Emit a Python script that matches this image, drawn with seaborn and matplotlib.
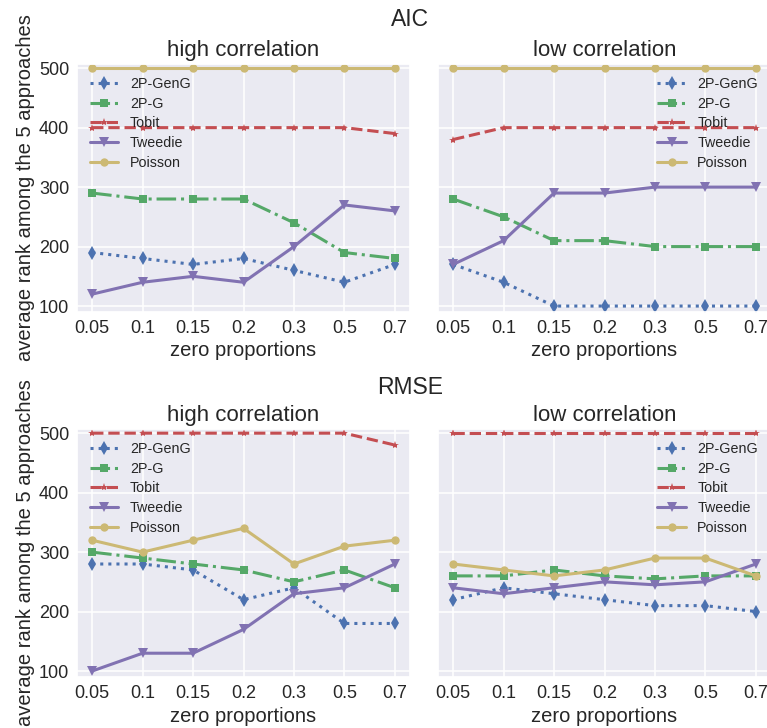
import matplotlib
matplotlib.use("Agg")
import matplotlib.pyplot as plt
import seaborn as sns
import pandas as pd

# ---------------- data ----------------
zero_props = ["0.05", "0.1", "0.15", "0.2", "0.3", "0.5", "0.7"]
methods = ["2P-GenG", "2P-G", "Tobit", "Tweedie", "Poisson"]

aic_high_genG = [190, 180, 170, 180, 160, 140, 170]
aic_high_2pg = [290, 280, 280, 280, 240, 190, 180]
aic_high_tobit = [400, 400, 400, 400, 400, 400, 390]
aic_high_tweedie = [120, 140, 150, 140, 200, 270, 260]
aic_high_poisson = [500, 500, 500, 500, 500, 500, 500]

aic_low_genG = [170, 140, 100, 100, 100, 100, 100]
aic_low_2pg = [280, 250, 210, 210, 200, 200, 200]
aic_low_tobit = [380, 400, 400, 400, 400, 400, 400]
aic_low_tweedie = [170, 210, 290, 290, 300, 300, 300]
aic_low_poisson = [500, 500, 500, 500, 500, 500, 500]

rmse_high_genG = [280, 280, 270, 220, 240, 180, 180]
rmse_high_2pg = [300, 290, 280, 270, 250, 270, 240]
rmse_high_tobit = [500, 500, 500, 500, 500, 500, 480]
rmse_high_tweedie = [100, 130, 130, 170, 230, 240, 280]
rmse_high_poisson = [320, 300, 320, 340, 280, 310, 320]

rmse_low_genG = [220, 240, 230, 220, 210, 210, 200]
rmse_low_2pg = [260, 260, 270, 260, 255, 260, 260]
rmse_low_tobit = [500, 500, 500, 500, 500, 500, 500]
rmse_low_tweedie = [240, 230, 240, 250, 245, 250, 280]
rmse_low_poisson = [280, 270, 260, 270, 290, 290, 260]

y_ticks = [100, 200, 300, 400, 500]

# ---------------- style ----------------
sns.set_theme(style="darkgrid")
plt.rcParams["font.family"] = ["Liberation Sans", "DejaVu Sans"]
plt.rcParams["grid.linewidth"] = 1.1

colors = ["#4C72B0", "#55A868", "#C44E52", "#8172B2", "#CCB974"]
markers = ["d", "s", "*", "v", "o"]
msizes = [7.0, 6.0, 6.0, 6.5, 6.0]
linestyles = [":", "-.", "--", "-", "-"]

panels = [
    ("high correlation", [aic_high_genG, aic_high_2pg, aic_high_tobit, aic_high_tweedie, aic_high_poisson], "upper left"),
    ("low correlation", [aic_low_genG, aic_low_2pg, aic_low_tobit, aic_low_tweedie, aic_low_poisson], "upper right"),
    ("high correlation", [rmse_high_genG, rmse_high_2pg, rmse_high_tobit, rmse_high_tweedie, rmse_high_poisson], "upper left"),
    ("low correlation", [rmse_low_genG, rmse_low_2pg, rmse_low_tobit, rmse_low_tweedie, rmse_low_poisson], "upper right"),
]

W, H = 767, 728
fig = plt.figure(figsize=(W / 100, H / 100), dpi=100)

def px_axes(x0, y0, x1, y1):
    return fig.add_axes([x0 / W, 1 - y1 / H, (x1 - x0) / W, (y1 - y0) / H])

boxes = [(77, 64, 410, 312), (438, 64, 771, 312), (77, 429, 410, 677), (438, 429, 771, 677)]

for i, ((title, series, loc), box) in enumerate(zip(panels, boxes)):
    ax = px_axes(*box)
    for name, vals, c, m, ms, ls in zip(methods, series, colors, markers, msizes, linestyles):
        df = pd.DataFrame({"zero proportions": zero_props, "rank": vals})
        sns.lineplot(data=df, x="zero proportions", y="rank", ax=ax, sort=False,
                     color=c, marker=m, markersize=ms, linestyle=ls, linewidth=2.2,
                     markeredgewidth=0, label=name)
    ax.set_xlim(-0.3, 6.3)
    ax.set_ylim(90, 507)
    ax.set_yticks(y_ticks)
    ax.set_title(title, fontsize=16, pad=6)
    ax.tick_params(axis="both", labelsize=13, length=0, pad=5.5)
    ax.set_xlabel("zero proportions", fontsize=14.5, labelpad=3.5)
    if i % 2 == 0:
        ax.set_ylabel("average rank among the 5 approaches", fontsize=14.5, labelpad=3)
    else:
        ax.set_ylabel("")
        ax.tick_params(axis="y", labelleft=False)
    ax.legend(loc=loc, frameon=False, fontsize=10.3, labelspacing=0.4)

fig.text(410 / W, 1 - 20 / H, "AIC", ha="center", va="center", fontsize=16.5)
fig.text(410 / W, 1 - 388 / H, "RMSE", ha="center", va="center", fontsize=16.5)

fig.savefig("out.png", dpi=100)
